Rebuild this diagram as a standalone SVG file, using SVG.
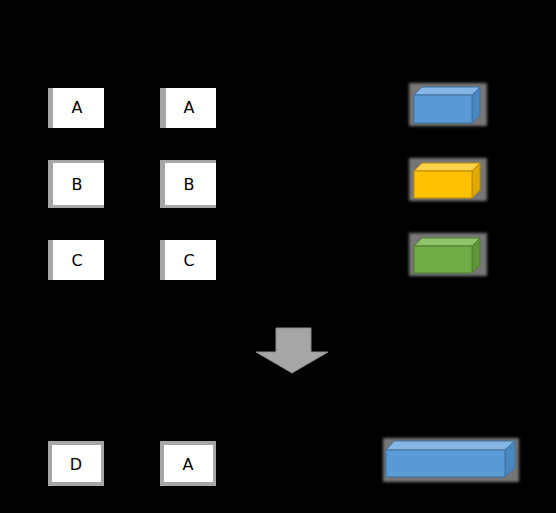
<svg xmlns="http://www.w3.org/2000/svg" width="556" height="513" viewBox="0 0 556 513">
<defs>
<style>
.box{fill:#ffffff}
.edge{fill:#a6a6a6}
.lbl{font-family:"DejaVu Sans",sans-serif;font-size:16px;fill:#000;text-anchor:middle}
.conn{stroke:#000;stroke-width:1.5;fill:none}
.halo{fill:#8c8c8c;opacity:0.85}
</style>
<marker id="ah" viewBox="0 0 10 10" refX="9" refY="5" markerWidth="5" markerHeight="5" orient="auto"><path d="M0,0 L10,5 L0,10 z" fill="#000"/></marker>
<filter id="blur" x="-20%" y="-40%" width="140%" height="180%"><feGaussianBlur stdDeviation="1.5"/></filter>
</defs>
<rect width="556" height="513" fill="#000"/>

<g id="connectors">
<path class="conn" d="M104,108 L162,108" marker-end="url(#ah)"/>
<path class="conn" d="M104,184 L162,184" marker-end="url(#ah)"/>
<path class="conn" d="M104,261 L162,261" marker-end="url(#ah)"/>
<path class="conn" d="M104,463 L162,463" marker-end="url(#ah)"/>
<path class="conn" d="M405,109 L414,109"/>
<path class="conn" d="M480,101 L490,101"/>
<path class="conn" d="M405,184 L414,184"/>
<path class="conn" d="M480,184 Q486,180 490,178"/>
<path class="conn" d="M405,260 L414,260"/>
<path class="conn" d="M480,260 L490,258"/>
</g>

<g id="nodeA1"><rect class="edge" x="48" y="88" width="56" height="40"/><rect class="box" x="53" y="88" width="51" height="40"/><text class="lbl" x="77" y="113">A</text></g>
<g id="nodeA2"><rect class="edge" x="160" y="88" width="56" height="40"/><rect class="box" x="166" y="88" width="50" height="40"/><text class="lbl" x="189" y="113">A</text></g>
<g id="nodeB1"><rect class="edge" x="48" y="160" width="56" height="48"/><rect class="box" x="53" y="163" width="51" height="42"/><text class="lbl" x="77" y="190">B</text></g>
<g id="nodeB2"><rect class="edge" x="160" y="160" width="56" height="48"/><rect class="box" x="165" y="163" width="51" height="42"/><text class="lbl" x="189" y="190">B</text></g>
<g id="nodeC1"><rect class="edge" x="48" y="240" width="56" height="40"/><rect class="box" x="53" y="240" width="51" height="40"/><text class="lbl" x="77" y="266">C</text></g>
<g id="nodeC2"><rect class="edge" x="160" y="240" width="56" height="40"/><rect class="box" x="165" y="240" width="51" height="40"/><text class="lbl" x="189" y="266">C</text></g>
<g id="nodeD"><rect class="edge" x="48" y="441" width="56" height="45"/><rect class="box" x="52" y="445" width="49" height="37"/><text class="lbl" x="76" y="470">D</text></g>
<g id="nodeA3"><rect class="edge" x="160" y="441" width="56" height="45"/><rect class="box" x="164" y="445" width="49" height="37"/><text class="lbl" x="188" y="470">A</text></g>

<g id="cubeBlue">
<rect class="halo" x="409" y="83" width="78" height="43" filter="url(#blur)"/>
<polygon points="414,95 422,87 480,87 472,95" fill="#86b6e6" stroke="#41719c" stroke-width="1"/>
<polygon points="472,95 480,87 480,115 472,123" fill="#4a86c0" stroke="#41719c" stroke-width="1"/>
<rect x="414" y="95" width="58" height="28" fill="#5b9bd5" stroke="#41719c" stroke-width="1"/>
</g>
<g id="cubeYellow">
<rect class="halo" x="409" y="158" width="78" height="43" filter="url(#blur)"/>
<polygon points="414,171 422,163 480,163 472,171" fill="#ffd24d" stroke="#bc8c00" stroke-width="1"/>
<polygon points="472,171 480,163 480,190 472,198" fill="#e0a800" stroke="#bc8c00" stroke-width="1"/>
<rect x="414" y="171" width="58" height="27" fill="#ffc000" stroke="#bc8c00" stroke-width="1"/>
</g>
<g id="cubeGreen">
<rect class="halo" x="409" y="233" width="78" height="43" filter="url(#blur)"/>
<polygon points="414,246 422,238 480,238 472,246" fill="#8fc46d" stroke="#507e32" stroke-width="1"/>
<polygon points="472,246 480,238 480,265 472,273" fill="#5e963a" stroke="#507e32" stroke-width="1"/>
<rect x="414" y="246" width="58" height="27" fill="#70ad47" stroke="#507e32" stroke-width="1"/>
</g>

<g id="bigArrow">
<polygon points="276,328 311,328 311,352 328,352 292,373 256,352 276,352" fill="#a6a6a6" stroke="#8c8c8c" stroke-width="1"/>
</g>

<g id="cubeLong">
<rect class="halo" x="383" y="438" width="136" height="44" filter="url(#blur)"/>
<polygon points="386,450 394,441 515,441 505,450" fill="#86b6e6" stroke="#41719c" stroke-width="1"/>
<polygon points="505,450 515,441 515,468 505,477" fill="#4a86c0" stroke="#41719c" stroke-width="1"/>
<rect x="386" y="450" width="119" height="27" fill="#5b9bd5" stroke="#41719c" stroke-width="1"/>
</g>
</svg>
